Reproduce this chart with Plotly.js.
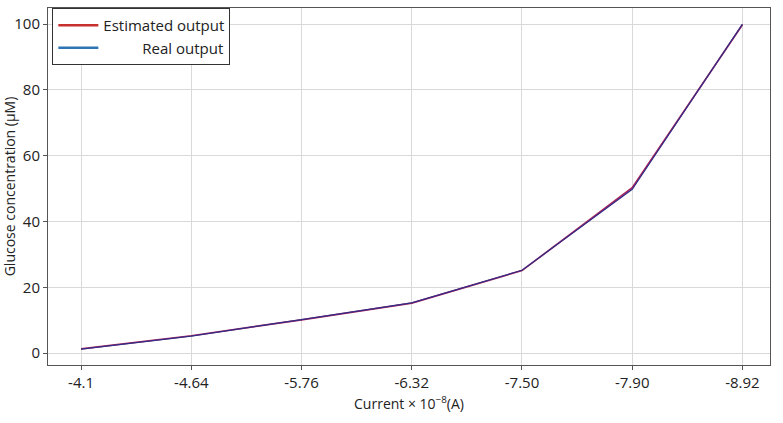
<!DOCTYPE html>
<html>
<head>
<meta charset="utf-8">
<script src="https://cdn.plot.ly/plotly-3.0.1.min.js"></script>
<style>
  html, body { margin: 0; padding: 0; background: #fff; }
  #chart { width: 783px; height: 423px; }
</style>
</head>
<body>
<div id="chart"></div>
<script>
// current (x 1e-8 A), categorical ticks
const currentLabels = ["-4.1", "-4.64", "-5.76", "-6.32", "-7.50", "-7.90", "-8.92"];
const realOutput = [1.2, 5.2, 10.2, 15.3, 25.2, 49.8, 100];
const estimatedOutput = [1.3, 5.3, 10.1, 15.2, 25.1, 50.3, 99.8];

const fontFam = "'Open Sans', 'Noto Sans', sans-serif";

const traces = [
  // drawn lines (overlapping, appear dark purple)
  { x: currentLabels, y: estimatedOutput, mode: 'lines', showlegend: false,
    line: { color: '#a8245e', width: 1.7 } },
  { x: currentLabels, y: realOutput, mode: 'lines', showlegend: false,
    line: { color: '#312c86', width: 1.2 } },
  // legend entries (text padded to look right-aligned)
  { x: [null], y: [null], mode: 'lines', name: 'Estimated output', line: { color: '#c8302e', width: 2.5 } },
  { x: [null], y: [null], mode: 'lines', name: '\u00a0'.repeat(10) + 'Real output', line: { color: '#2e75b6', width: 2.5 } }
];

const layout = {
  width: 783, height: 423,
  margin: { l: 48, r: 13, t: 8, b: 58 },
  paper_bgcolor: '#fff', plot_bgcolor: '#fff',
  font: { family: fontFam, color: '#222', size: 14 },
  xaxis: {
    type: 'category',
    range: [-0.3, 6.25],
    title: { text: 'Current × 10<sup>−8</sup>(A)', font: { size: 14 }, standoff: 8 },
    tickfont: { size: 15 },
    showgrid: true, gridcolor: '#d9d9d9', gridwidth: 1,
    showline: true, linecolor: '#555', linewidth: 1, mirror: true,
    ticks: 'outside', ticklen: 4, tickcolor: '#555',
    zeroline: false
  },
  yaxis: {
    range: [-3.6, 104.9],
    tickvals: [0, 20, 40, 60, 80, 100],
    title: { text: 'Glucose concentration (μM)', font: { size: 14 }, standoff: 6 },
    tickfont: { size: 15 },
    showgrid: true, gridcolor: '#d9d9d9', gridwidth: 1,
    showline: true, linecolor: '#555', linewidth: 1, mirror: true,
    ticks: 'outside', ticklen: 4, tickcolor: '#555',
    zeroline: false
  },
  legend: {
    x: 0.006, y: 1, xanchor: 'left', yanchor: 'top',
    bgcolor: '#fff', bordercolor: '#333', borderwidth: 1,
    font: { size: 15 }, tracegroupgap: 0, itemwidth: 40
  },
  showlegend: true
};

Plotly.newPlot('chart', traces, layout, { displayModeBar: false, staticPlot: true });
</script>
</body>
</html>
